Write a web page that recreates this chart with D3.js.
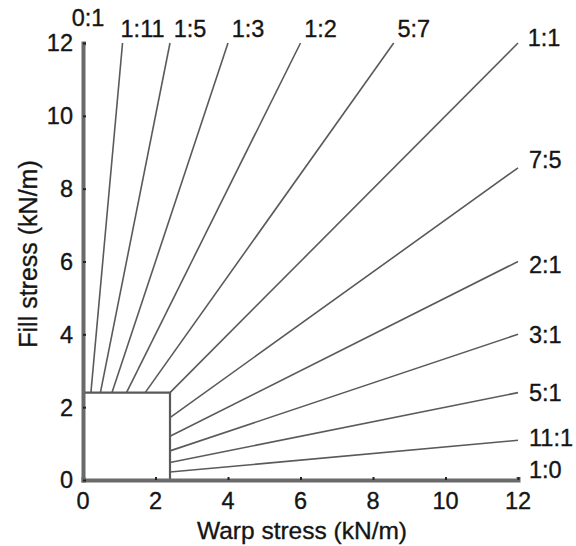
<!DOCTYPE html>
<html><head><meta charset="utf-8">
<script src="https://cdn.jsdelivr.net/npm/d3@7"></script>
<style>body{margin:0;background:#fff}text{font-family:"Liberation Sans",Arial,sans-serif;fill:#151515;stroke:#151515;stroke-width:0.35px}</style>
</head><body>
<svg id="c" width="576" height="546"></svg>
<script>
const ratioLabels = ["0:1","1:11","1:5","1:3","1:2","5:7","1:1","7:5","2:1","3:1","5:1","11:1","1:0"];
const warpParts  = [0,1,1,1,1,5,1,7,2,3,5,11,1];
const fillParts  = [1,11,5,3,2,7,1,5,1,1,1,1,0];
const xTicks = [0,2,4,6,8,10,12];
const yTicks = [0,2,4,6,8,10,12];
const boxSize = 2.4;
const maxStress = 12;
const xTitle = "Warp stress (kN/m)";
const yTitle = "Fill stress (kN/m)";

const svg = d3.select("#c");
const x = d3.scaleLinear().domain([0, maxStress]).range([83, 518]);
const y = d3.scaleLinear().domain([0, maxStress]).range([480, 43]);
const lineColor = "#5a5a5a";
const FS = 23.5;

const data = ratioLabels.map((l,i)=>{
  const w = warpParts[i], f = fillParts[i], m = Math.max(w,f);
  return {label:l, w, f, x0:w*boxSize/m, y0:f*boxSize/m, x1:w*maxStress/m, y1:f*maxStress/m};
});

// ratio lines
svg.append("g").selectAll("line").data(data).join("line")
  .attr("x1", d=>x(d.x0)).attr("y1", d=>y(d.y0))
  .attr("x2", d=>x(d.x1)).attr("y2", d=>y(d.y1))
  .attr("stroke", lineColor).attr("stroke-width", 1.6);

// initial box
svg.append("path")
  .attr("d", `M${x(0)},${y(boxSize)}H${x(boxSize)}V${y(0)}`)
  .attr("fill","none").attr("stroke", lineColor).attr("stroke-width", 2.2);

// axes
const gx = svg.append("g").attr("transform", `translate(0,${y(0)})`)
  .call(d3.axisTop(x).tickValues(xTicks).tickSize(3).tickFormat(""));
const gy = svg.append("g").attr("transform", `translate(${x(0)},0)`)
  .call(d3.axisRight(y).tickValues(yTicks).tickSize(3).tickFormat(""));
[gx,gy].forEach(g=>{
  g.select(".domain").attr("stroke","#6a6a6a").attr("stroke-width",4);
  g.selectAll(".tick line").attr("stroke","#222").attr("stroke-width",2);
});

// tick labels
svg.append("g").selectAll("text").data(xTicks).join("text")
  .attr("x", d=>x(d)).attr("y", y(0)+29).attr("text-anchor","middle")
  .attr("font-size",FS).text(d=>d);
svg.append("g").selectAll("text").data(yTicks).join("text")
  .attr("x", x(0)-10).attr("y", d=>y(d)).attr("dy","0.36em").attr("text-anchor","end")
  .attr("font-size",FS).text(d=>d);

// axis titles
svg.append("text").attr("x", 302).attr("y", 539).attr("text-anchor","middle")
  .attr("font-size",24.5).text(xTitle);
svg.append("text").attr("transform","translate(37,254) rotate(-90)").attr("text-anchor","middle")
  .attr("font-size",25).text(yTitle);

// ratio labels
const lab = svg.append("g");
data.forEach(d=>{
  if (d.f >= d.w) {
    let lx = x(d.x1)+20, ly = y(maxStress)-6;
    if (d.w===0) { lx = x(d.x1)+5; ly = y(maxStress)-17; }
    if (d.w===d.f) { lx = x(d.x1)+26; ly = y(maxStress)+3; }
    lab.append("text").attr("x",lx).attr("y",ly).attr("text-anchor","middle")
      .attr("font-size",FS).text(d.label);
  } else {
    let ly = y(d.y1);
    if (d.f===0) ly -= 10;
    if (d.label==="7:5") ly -= 8;
    if (d.label==="11:1") ly -= 3;
    if (d.label==="2:1") ly += 3;
    lab.append("text").attr("x", x(maxStress)+11).attr("y", ly).attr("dy","0.36em")
      .attr("font-size",FS).text(d.label);
  }
});
</script>
</body></html>
